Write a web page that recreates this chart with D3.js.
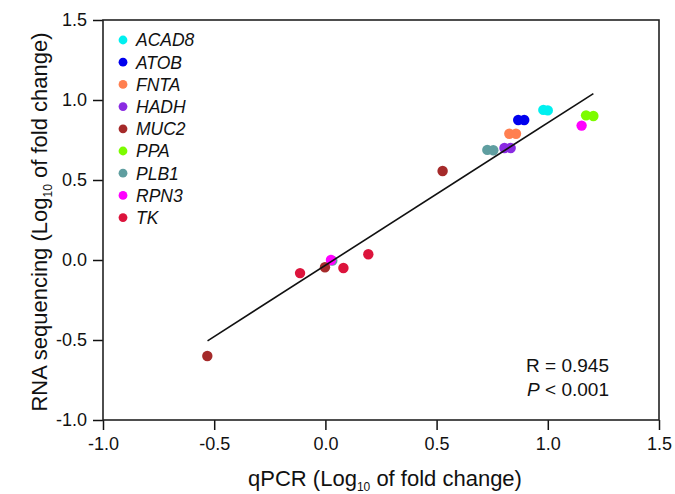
<!DOCTYPE html>
<html>
<head>
<meta charset="utf-8">
<script src="https://cdn.jsdelivr.net/npm/d3@7"></script>
<style>
  body { margin: 0; background: #fff; }
  svg { font-family: "Liberation Sans", Arial, sans-serif; }
  .tick text { font-size: 18px; fill: #111; }
</style>
</head>
<body>
<div id="chart"></div>
<script>
// genes and their colours (legend order)
var genes  = ['ACAD8', 'ATOB', 'FNTA', 'HADH', 'MUC2', 'PPA', 'PLB1', 'RPN3', 'TK'];
var colors = ['#00f0f0', '#0000ee', '#ff7f50', '#8a2be2', '#a52a2a', '#7cfc00', '#5f9ea0', '#ff00ff', '#dc143c'];

// one entry per point: gene, qPCR value, RNA-seq value
var pointGene  = ['ACAD8', 'ACAD8', 'ATOB', 'ATOB', 'FNTA', 'FNTA', 'HADH', 'HADH', 'PLB1', 'PLB1',
                  'PPA', 'PPA', 'RPN3', 'PLB1', 'RPN3', 'MUC2', 'MUC2', 'MUC2', 'TK', 'TK', 'TK'];
var pointQpcr  = [0.98, 1.00, 0.867, 0.894, 0.827, 0.857, 0.805, 0.833, 0.728, 0.755,
                  1.172, 1.205, 1.152, 0.031, 0.025, 0.527, -0.002, -0.531, 0.193, 0.081, -0.114];
var pointRna   = [0.938, 0.935, 0.875, 0.875, 0.789, 0.789, 0.70, 0.70, 0.688, 0.686,
                  0.904, 0.900, 0.84, -0.004, 0.0, 0.556, -0.045, -0.60, 0.036, -0.05, -0.082];

// fitted line end points
var fitX = [-0.53, 1.205];
var fitY = [-0.505, 1.04];

var tickValues = [-1.0, -0.5, 0.0, 0.5, 1.0, 1.5];

var width = 675, height = 494;
var margin = {left: 103, right: 16, top: 20, bottom: 74};

var svg = d3.select('#chart').append('svg')
    .attr('width', width)
    .attr('height', height);

var x = d3.scaleLinear().domain([-1, 1.5]).range([margin.left, width - margin.right]);
var y = d3.scaleLinear().domain([-1, 1.5]).range([height - margin.bottom, margin.top]);

var color = d3.scaleOrdinal().domain(genes).range(colors);

// axes
svg.append('g')
    .attr('transform', 'translate(0,' + y(-1) + ')')
    .call(d3.axisBottom(x).tickValues(tickValues)
        .tickSize(10).tickSizeOuter(0).tickPadding(7));
svg.append('g')
    .attr('transform', 'translate(' + x(-1) + ',0)')
    .call(d3.axisLeft(y).tickValues(tickValues)
        .tickSize(10).tickSizeOuter(0).tickPadding(6));

svg.selectAll('.domain').remove();
svg.selectAll('.tick line').attr('stroke', '#111').attr('stroke-width', 1.5);
svg.selectAll('.tick text').text(function(d) { return d3.format('.1f')(d).replace('−', '-'); });

// frame
svg.append('rect')
    .attr('x', x(-1)).attr('y', y(1.5))
    .attr('width', x(1.5) - x(-1)).attr('height', y(-1) - y(1.5))
    .attr('fill', 'none').attr('stroke', '#222').attr('stroke-width', 1.6);

// points
var points = pointGene.map(function(g, i) { return {gene: g, qpcr: pointQpcr[i], rna: pointRna[i]}; });

svg.append('g').selectAll('circle').data(points).enter()
    .append('circle')
    .attr('cx', function(d) { return x(d.qpcr); })
    .attr('cy', function(d) { return y(d.rna); })
    .attr('r', 5.2)
    .attr('fill', function(d) { return color(d.gene); });

// regression line
svg.append('line')
    .attr('x1', x(fitX[0])).attr('y1', y(fitY[0]))
    .attr('x2', x(fitX[1])).attr('y2', y(fitY[1]))
    .attr('stroke', '#111').attr('stroke-width', 1.6);

// legend
var legend = svg.append('g').selectAll('g').data(genes).enter()
    .append('g')
    .attr('transform', function(d, i) { return 'translate(123,' + (40 + i * 22.2) + ')'; });
legend.append('circle').attr('r', 4.4).attr('fill', function(d) { return color(d); });
legend.append('text')
    .attr('x', 13).attr('dy', '0.36em')
    .style('font-size', '17.5px').style('font-style', 'italic').attr('fill', '#111')
    .text(function(d) { return d; });

// stats
svg.append('text')
    .attr('x', 609).attr('y', 372).attr('text-anchor', 'end')
    .style('font-size', '19px').attr('fill', '#111')
    .text('R = 0.945');
var pText = svg.append('text')
    .attr('x', 609).attr('y', 396).attr('text-anchor', 'end')
    .style('font-size', '19px').attr('fill', '#111');
pText.append('tspan').style('font-style', 'italic').text('P');
pText.append('tspan').text(' < 0.001');

// axis titles
var xTitle = svg.append('text')
    .attr('x', 385).attr('y', 486)
    .attr('text-anchor', 'middle')
    .style('font-size', '22px').attr('fill', '#111');
xTitle.append('tspan').text('qPCR (Log');
xTitle.append('tspan').attr('dy', 5).style('font-size', '12px').text('10');
xTitle.append('tspan').attr('dy', -5).text(' of fold change)');

var yTitle = svg.append('text')
    .attr('transform', 'translate(47,' + ((y(-1) + y(1.5)) / 2 + 2) + ') rotate(-90)')
    .attr('text-anchor', 'middle')
    .style('font-size', '22px').attr('fill', '#111');
yTitle.append('tspan').text('RNA sequencing (Log');
yTitle.append('tspan').attr('dy', 5).style('font-size', '12px').text('10');
yTitle.append('tspan').attr('dy', -5).text(' of fold change)');
</script>
</body>
</html>
